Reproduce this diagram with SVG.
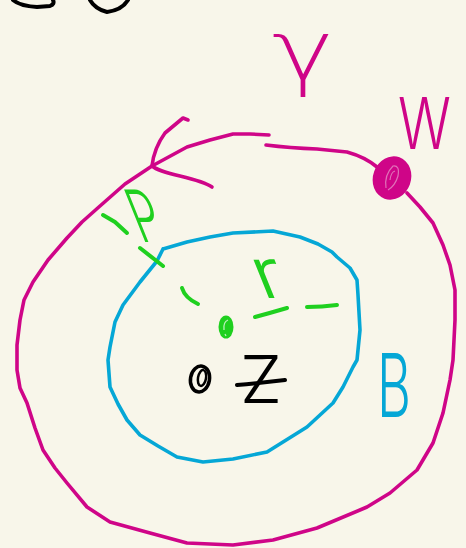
<svg xmlns="http://www.w3.org/2000/svg" width="466" height="548" viewBox="0 0 466 548">
<style>
.s{fill:none;stroke-linecap:round;stroke-linejoin:round}
.m{stroke:#cf0588;stroke-width:3.6}
.b{stroke:#05a7d6;stroke-width:3.6}
.g{stroke:#1fd01f;stroke-width:4}
.k{stroke:#000;stroke-width:4}
.t{font-family:Inter,"DejaVu Sans",sans-serif;font-weight:300}
.d{font-family:"DejaVu Sans",sans-serif;font-weight:200}
</style>
<rect width="466" height="548" fill="#f8f6ea"/>
<g id="top-fragments">
<path class="s k" d="M13,0 Q20,6 37,7 L50,6 Q55,4 53,0"/>
<path class="s k" d="M90,0 Q95,9 107,12 Q122,10 128,0"/>
</g>
<g id="outer-circle">
<path class="s m" d="M269,135 L250,134 L233,134 L210,140 L187,147 L152,166 L125,184 L100,206 L82,222 L67,238 L48,260 L33,282 L24,300 L20,320 L17,345 L17,370 L20,388 L27,403 L35,428 L43,450 L55,468 L67,483 L87,507 L110,522 L150,533 L187,543 L233,545 L273,540 L317,528 L367,507 L390,493 L417,470 L433,443 L443,413 L450,380 L453,360 L455,320 L455,290 L450,265 L443,245 L433,223 L420,207 L407,193"/>
<path class="s m" d="M266,145 Q290,148 317,149 L347,152 Q365,157 377,167 L392,178"/>
<path class="s m" d="M152,166 Q154,148 165,133 L183,118 L188,120"/>
<path class="s m" d="M152,166 Q158,171 180,176 Q205,182 212,187"/>
<ellipse cx="392" cy="178" rx="19" ry="22" transform="rotate(20 392 178)" fill="#cf0588"/>
<path d="M386,188 Q384,175 393,166 Q400,165 398,176 Q395,186 388,190 M390,180 Q391,172 395,171" fill="none" stroke="#e070b8" stroke-width="1.2"/>
</g>
<g id="inner-circle">
<path class="s b" d="M163,249 L187,242 L210,237 L233,233 L273,231 L300,237 L318,244 L332,252 L337,257 L350,268 L357,280 L358,295 L360,330 L357,360 L353,367 L343,387 L333,403 L307,427 L267,452 L233,459 L203,462 L177,457 L158,446 L140,435 L127,420 L118,404 L110,387 L108,360 L110,347 L115,322 L123,305 L140,282 L157,261 L163,249"/>
</g>
<g id="radius-P">
<path class="s g" d="M103,215 L115,222 L127,233"/>
<path class="s g" d="M140,248 L163,266"/>
<path class="s g" d="M182,288 Q185,298 198,304"/>
<text class="t" x="0" y="0" font-size="72" fill="#1fd01f" textLength="28" lengthAdjust="spacingAndGlyphs" transform="translate(141 242) skewX(22)">P</text>
</g>
<g id="radius-r">
<path class="s g" d="M255,317 Q270,313 287,308"/>
<path class="s g" d="M307,307 Q322,307 337,305"/>
<text class="t" x="0" y="0" font-size="70" fill="#1fd01f" textLength="30" lengthAdjust="spacingAndGlyphs" transform="translate(262 298) skewX(22)">r</text>
</g>
<g id="green-point">
<ellipse cx="226" cy="327" rx="7.5" ry="11.5" fill="#1fd01f"/>
<path d="M224,330 Q223,322 228,320 M225,334 L226,336" fill="none" stroke="#b8f0b8" stroke-width="1.3"/>
</g>
<g id="point-Z">
<ellipse cx="200" cy="379" rx="9.5" ry="13" transform="rotate(10 200 379)" fill="none" stroke="#000" stroke-width="3.5"/>
<ellipse cx="202" cy="378" rx="4" ry="8" transform="rotate(10 202 378)" fill="none" stroke="#000" stroke-width="2.5"/>
<text class="t" x="240" y="403" font-size="66" fill="#000" textLength="42" lengthAdjust="spacingAndGlyphs">Z</text>
<path class="s k" d="M237,385 Q260,383 285,380"/>
</g>
<g id="label-B">
<text class="t" x="377" y="417" font-size="88" fill="#05a7d6" textLength="34" lengthAdjust="spacingAndGlyphs">B</text>
</g>
<g id="label-gamma">
<text class="d" x="272" y="80" font-size="84" fill="#cf0588" textLength="62" lengthAdjust="spacingAndGlyphs">γ</text>
</g>
<g id="label-W">
<text class="t" x="0" y="0" font-size="72" fill="#cf0588" transform="translate(398 149) scale(0.76 1)">W</text>
</g>
</svg>
